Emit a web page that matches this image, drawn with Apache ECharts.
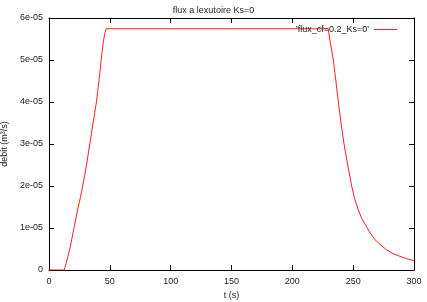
<!DOCTYPE html>
<html><head><meta charset="utf-8">
<script src="https://cdn.jsdelivr.net/npm/echarts@6/dist/echarts.min.js"></script>
<style>html,body{margin:0;padding:0;background:#fff}#c{width:427px;height:302px}</style>
</head><body><div id="c"></div>
<script>
const titleText = "flux a lexutoire Ks=0";
const seriesName = "'flux_cf=0.2_Ks=0'";
const xName = "t (s)";
const yName = "debit (m³/s)";
const xTicks = [0, 50, 100, 150, 200, 250, 300];
const yTicks = [0, 1e-5, 2e-5, 3e-5, 4e-5, 5e-5, 6e-5];
const tValues = [0, 12.5, 14, 15.5, 17.5, 19, 20.5, 22.3, 24, 26, 27.7, 29.3, 30.8, 32.2, 33.5, 34.9, 36.2, 37.6, 39, 40, 41, 42, 42.8, 43.7, 44.5, 45.3, 46, 47,
  100, 150, 200, 229.5, 231, 233.7, 235.8, 237.8, 240, 242.5, 245.5, 248.8, 251, 254, 257, 261, 264, 268, 272, 277.5, 282, 288, 294, 300];
const qValues = [0, 0, 0.15e-5, 0.32e-5, 0.55e-5, 0.77e-5, 1.0e-5, 1.25e-5, 1.5e-5, 1.75e-5, 2.0e-5, 2.25e-5, 2.5e-5, 2.75e-5, 3.0e-5, 3.25e-5, 3.5e-5, 3.75e-5, 4.0e-5, 4.25e-5, 4.5e-5, 4.75e-5, 5.0e-5, 5.2e-5, 5.4e-5, 5.55e-5, 5.65e-5, 5.745e-5,
  5.745e-5, 5.745e-5, 5.745e-5, 5.74e-5, 5.45e-5, 5.0e-5, 4.5e-5, 4.0e-5, 3.5e-5, 3.0e-5, 2.5e-5, 2.0e-5, 1.72e-5, 1.45e-5, 1.23e-5, 1.03e-5, 0.88e-5, 0.72e-5, 0.61e-5, 0.48e-5, 0.40e-5, 0.33e-5, 0.27e-5, 0.22e-5];

const font = 'Liberation Sans, Arial, sans-serif';
const fmtY = v => {
  if (Math.abs(v) < 1e-12) return '0';
  const e = Math.floor(Math.log10(Math.abs(v)) + 1e-9);
  const m = Math.round(v / Math.pow(10, e));
  return m + 'e-' + String(-e).padStart(2, '0');
};
const data = tValues.map((t, i) => [t, qValues[i]]);
const chart = echarts.init(document.getElementById('c'));
const axisCommon = {
  axisLine: {show: true, onZero: false, lineStyle: {color: '#000', width: 1}},
  axisTick: {show: true, inside: true, length: 5, lineStyle: {color: '#000'}},
  splitLine: {show: false}
};
chart.setOption({
  animation: false,
  title: {text: titleText, left: 'center', top: 1, textStyle: {fontFamily: font, fontSize: 9, fontWeight: 'normal', color: '#222'}},
  legend: {
    right: 25, top: 20, align: 'right', itemWidth: 23, itemHeight: 1, itemGap: 5,
    icon: 'rect',
    textStyle: {fontFamily: font, fontSize: 9, color: '#222'},
    data: [{name: seriesName, itemStyle: {color: '#ff2020'}}]
  },
  grid: {left: 49, right: 13, top: 18, bottom: 32, containLabel: false, outerBoundsMode: 'none'},
  xAxis: [
    Object.assign({type: 'value', min: 0, max: 300, interval: 50, position: 'bottom',
      name: xName, nameLocation: 'middle', nameGap: 21,
      nameTextStyle: {fontFamily: font, fontSize: 9, color: '#222'},
      axisLabel: {fontFamily: font, fontSize: 9, color: '#222', margin: 7}}, axisCommon),
    Object.assign({type: 'value', min: 0, max: 300, interval: 50, position: 'top',
      axisLabel: {show: false}}, axisCommon)
  ],
  yAxis: [
    Object.assign({type: 'value', min: 0, max: 6e-5, interval: 1e-5, position: 'left',
      name: yName, nameLocation: 'middle', nameGap: 38,
      nameTextStyle: {fontFamily: font, fontSize: 9, color: '#222'},
      axisLabel: {fontFamily: font, fontSize: 9, color: '#222', margin: 6, formatter: fmtY}}, axisCommon),
    Object.assign({type: 'value', min: 0, max: 6e-5, interval: 1e-5, position: 'right',
      axisLabel: {show: false}}, axisCommon)
  ],
  series: [{
    name: seriesName, type: 'line', data: data, smooth: false, showSymbol: false,
    lineStyle: {color: '#ff2020', width: 1}, itemStyle: {color: '#ff2020'}
  }]
});
</script></body></html>
